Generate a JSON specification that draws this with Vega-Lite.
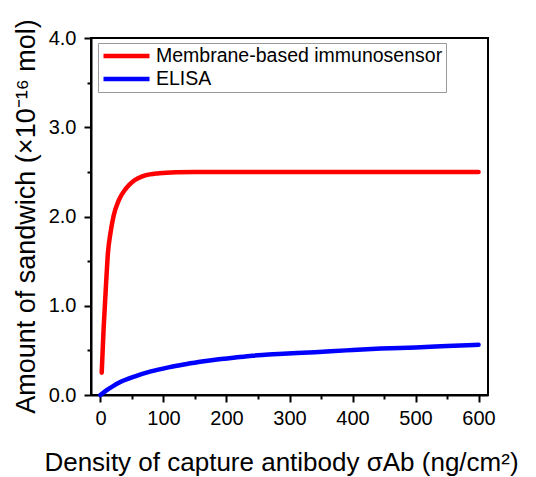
{
  "$schema": "https://vega.github.io/schema/vega-lite/v6.json",
  "autosize": {"type": "none"},
  "padding": {"left": 91, "top": 38, "right": 48, "bottom": 82},
  "width": 397,
  "height": 357,
  "background": "white",
  "config": {
    "font": "Liberation Sans",
    "view": {"stroke": "black", "strokeWidth": 2}
  },
  "data": {
    "values": [
      {"series": "Membrane-based immunosensor", "x": 2, "y": 0.25},
      {"series": "Membrane-based immunosensor", "x": 5, "y": 0.74},
      {"series": "Membrane-based immunosensor", "x": 9, "y": 1.26},
      {"series": "Membrane-based immunosensor", "x": 12, "y": 1.6},
      {"series": "Membrane-based immunosensor", "x": 16, "y": 1.82},
      {"series": "Membrane-based immunosensor", "x": 21, "y": 2.01},
      {"series": "Membrane-based immunosensor", "x": 29, "y": 2.18},
      {"series": "Membrane-based immunosensor", "x": 40, "y": 2.31},
      {"series": "Membrane-based immunosensor", "x": 53, "y": 2.4},
      {"series": "Membrane-based immunosensor", "x": 71, "y": 2.46},
      {"series": "Membrane-based immunosensor", "x": 93, "y": 2.485},
      {"series": "Membrane-based immunosensor", "x": 120, "y": 2.497},
      {"series": "Membrane-based immunosensor", "x": 150, "y": 2.5},
      {"series": "Membrane-based immunosensor", "x": 300, "y": 2.5},
      {"series": "Membrane-based immunosensor", "x": 600, "y": 2.5},
      {"series": "ELISA", "x": 0, "y": 0},
      {"series": "ELISA", "x": 10, "y": 0.055},
      {"series": "ELISA", "x": 20, "y": 0.1},
      {"series": "ELISA", "x": 30, "y": 0.14},
      {"series": "ELISA", "x": 55, "y": 0.21},
      {"series": "ELISA", "x": 80, "y": 0.265},
      {"series": "ELISA", "x": 108, "y": 0.31},
      {"series": "ELISA", "x": 135, "y": 0.345},
      {"series": "ELISA", "x": 161, "y": 0.375},
      {"series": "ELISA", "x": 188, "y": 0.4},
      {"series": "ELISA", "x": 214, "y": 0.42},
      {"series": "ELISA", "x": 241, "y": 0.44},
      {"series": "ELISA", "x": 267, "y": 0.455},
      {"series": "ELISA", "x": 290, "y": 0.463},
      {"series": "ELISA", "x": 340, "y": 0.48},
      {"series": "ELISA", "x": 390, "y": 0.5},
      {"series": "ELISA", "x": 445, "y": 0.52},
      {"series": "ELISA", "x": 500, "y": 0.533},
      {"series": "ELISA", "x": 550, "y": 0.548},
      {"series": "ELISA", "x": 600, "y": 0.562}
    ]
  },
  "mark": {"type": "line", "strokeWidth": 4.5, "strokeCap": "round", "strokeJoin": "round", "interpolate": "monotone"},
  "encoding": {
    "x": {
      "field": "x",
      "type": "quantitative",
      "scale": {"domain": [-15, 615], "nice": false, "zero": false},
      "axis": {
        "title": "Density of capture antibody σAb (ng/cm²)",
        "titleFontSize": 26,
        "titleFontWeight": "normal",
        "titleColor": "black",
        "titleX": 190,
        "titleY": 75,
        "titleAnchor": "start",
        "titleAlign": "center",
        "titleBaseline": "alphabetic",
        "values": [0, 50, 100, 150, 200, 250, 300, 350, 400, 450, 500, 550, 600],
        "labelExpr": "datum.value % 100 === 0 ? format(datum.value, 'd') : ''",
        "labelFontSize": 20,
        "labelColor": "black",
        "labelPadding": 6,
        "labelOverlap": false,
        "labelFlush": false,
        "tickColor": "black",
        "tickWidth": 2,
        "tickSize": {"condition": {"test": "datum.value % 100 !== 0", "value": 4}, "value": 7},
        "domainColor": "black",
        "domainWidth": 2,
        "grid": false
      }
    },
    "y": {
      "field": "y",
      "type": "quantitative",
      "scale": {"domain": [0, 4], "nice": false},
      "axis": {
        "title": "Amount of sandwich (×10⁻¹⁶ mol)",
        "titleFontSize": 27,
        "titleFontWeight": "normal",
        "titleColor": "black",
        "titleX": -57,
        "titleY": 178,
        "titleAnchor": "start",
        "titleAlign": "center",
        "titleAngle": -90,
        "titleBaseline": "alphabetic",
        "values": [0, 0.5, 1, 1.5, 2, 2.5, 3, 3.5, 4],
        "labelExpr": "datum.value % 1 === 0 ? format(datum.value, '.1f') : ''",
        "labelFontSize": 20,
        "labelColor": "black",
        "labelPadding": 8,
        "labelOverlap": false,
        "labelFlush": false,
        "tickColor": "black",
        "tickWidth": 2,
        "tickSize": {"condition": {"test": "datum.value % 1 !== 0", "value": 4}, "value": 7},
        "domainColor": "black",
        "domainWidth": 2,
        "grid": false
      }
    },
    "color": {
      "field": "series",
      "type": "nominal",
      "scale": {"domain": ["Membrane-based immunosensor", "ELISA"], "range": ["#ff0000", "#0000ff"]},
      "legend": {
        "title": null,
        "orient": "none",
        "legendX": 7,
        "legendY": 5,
        "symbolType": "stroke",
        "symbolSize": 2116,
        "symbolStrokeWidth": 4.5,
        "symbolOffset": 0,
        "clipHeight": 20,
        "rowPadding": 3,
        "labelOffset": 4,
        "labelFontSize": 19.5,
        "labelColor": "black",
        "labelLimit": 400,
        "padding": 3,
        "strokeColor": "#999999",
        "fillColor": "white"
      }
    }
  }
}
